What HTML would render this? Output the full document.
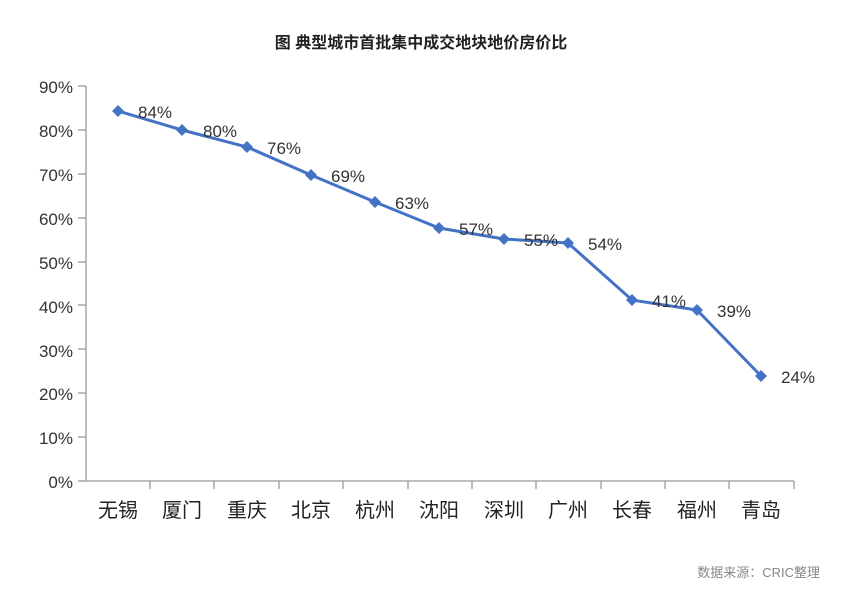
<!DOCTYPE html>
<html><head><meta charset="utf-8"><style>
body{margin:0;background:#fff;}
svg text{font-family:"Liberation Sans","Noto Sans CJK SC",sans-serif;}
</style></head><body>
<svg width="843" height="599" xmlns="http://www.w3.org/2000/svg">
<text x="421" y="48" text-anchor="middle" font-size="16" font-weight="bold" fill="#222">图  典型城市首批集中成交地块地价房价比</text>
<g stroke="#999" stroke-width="1.3" fill="none">
<line x1="86" y1="86" x2="86" y2="481"/>
<line x1="86" y1="481" x2="794" y2="481"/>
</g>
<g id="yt" font-size="17" fill="#333" text-anchor="end">
<text x="73" y="93">90%</text><text x="73" y="137">80%</text><text x="73" y="181">70%</text>
<text x="73" y="225">60%</text><text x="73" y="269">50%</text><text x="73" y="313">40%</text>
<text x="73" y="357">30%</text><text x="73" y="400">20%</text><text x="73" y="444">10%</text>
<text x="73" y="488">0%</text>
</g>
<g stroke="#999" stroke-width="1.3">
<line x1="78" y1="86" x2="86" y2="86"/><line x1="78" y1="130" x2="86" y2="130"/><line x1="78" y1="174" x2="86" y2="174"/>
<line x1="78" y1="218" x2="86" y2="218"/><line x1="78" y1="262" x2="86" y2="262"/><line x1="78" y1="305" x2="86" y2="305"/>
<line x1="78" y1="349" x2="86" y2="349"/><line x1="78" y1="393" x2="86" y2="393"/><line x1="78" y1="437" x2="86" y2="437"/>
<line x1="78" y1="481" x2="86" y2="481"/>
<line x1="150" y1="481" x2="150" y2="489"/><line x1="214" y1="481" x2="214" y2="489"/><line x1="279" y1="481" x2="279" y2="489"/>
<line x1="343" y1="481" x2="343" y2="489"/><line x1="408" y1="481" x2="408" y2="489"/><line x1="472" y1="481" x2="472" y2="489"/>
<line x1="536" y1="481" x2="536" y2="489"/><line x1="601" y1="481" x2="601" y2="489"/><line x1="665" y1="481" x2="665" y2="489"/>
<line x1="729" y1="481" x2="729" y2="489"/><line x1="794" y1="481" x2="794" y2="489"/>
</g>
<g font-size="20" fill="#222" text-anchor="middle">
<text x="118" y="517">无锡</text><text x="182" y="517">厦门</text><text x="247" y="517">重庆</text>
<text x="311" y="517">北京</text><text x="375" y="517">杭州</text><text x="439" y="517">沈阳</text>
<text x="504" y="517">深圳</text><text x="568" y="517">广州</text><text x="632" y="517">长春</text>
<text x="697" y="517">福州</text><text x="761" y="517">青岛</text>
</g>
<polyline fill="none" stroke="#4472c4" stroke-width="3" points="118,111 182,130 247,147 311,175 375,202 439,228 504,239 568,243 632,300 697,310 761,376"/>
<g fill="#4472c4">
<path d="M118,105l6,6-6,6-6-6z"/><path d="M182,124l6,6-6,6-6-6z"/><path d="M247,141l6,6-6,6-6-6z"/>
<path d="M311,169l6,6-6,6-6-6z"/><path d="M375,196l6,6-6,6-6-6z"/><path d="M439,222l6,6-6,6-6-6z"/>
<path d="M504,233l6,6-6,6-6-6z"/><path d="M568,237l6,6-6,6-6-6z"/><path d="M632,294l6,6-6,6-6-6z"/>
<path d="M697,304l6,6-6,6-6-6z"/><path d="M761,370l6,6-6,6-6-6z"/>
</g>
<g font-size="17" fill="#333">
<text x="138" y="118">84%</text><text x="203" y="137">80%</text><text x="267" y="154">76%</text>
<text x="331" y="182">69%</text><text x="395" y="209">63%</text><text x="459" y="235">57%</text>
<text x="524" y="246">55%</text><text x="588" y="250">54%</text><text x="652" y="307">41%</text>
<text x="717" y="317">39%</text><text x="781" y="383">24%</text>
</g>
<text x="820" y="577" text-anchor="end" font-size="13" fill="#888">数据来源：CRIC整理</text>
</svg>
</body></html>
